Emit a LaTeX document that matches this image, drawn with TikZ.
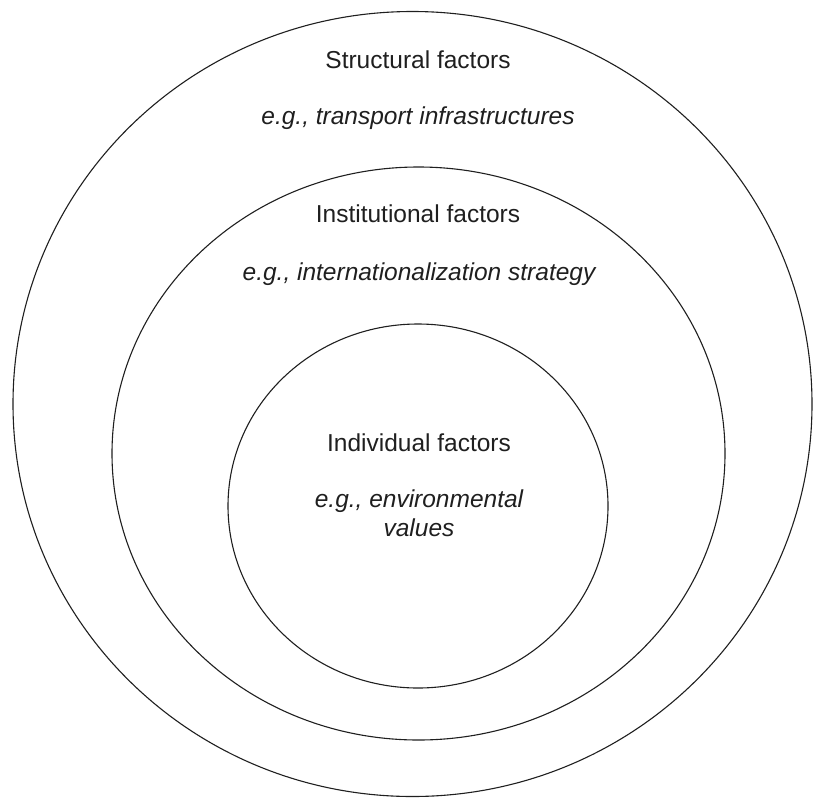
\documentclass[tikz,border=0pt]{standalone}
\usepackage{fontspec}
\setmainfont{Liberation Sans}
\begin{document}
\begin{tikzpicture}[x=1pt,y=-1pt,
  ring/.style={draw=black!88, line width=1.1pt},
  label/.style={anchor=base, inner sep=0pt, text=black!88, font=\fontsize{24.5}{29}\selectfont},
  example/.style={label, font=\fontsize{24.5}{29}\selectfont\itshape, align=center}]
  \useasboundingbox (0,0) rectangle (813,798);
  % nested spheres of influence
  \draw[ring] (412.5,404) ellipse [x radius=399.5, y radius=392.5];
  \draw[ring] (418.5,453.5) ellipse [x radius=306.5, y radius=286.5];
  \draw[ring] (418,506) ellipse [x radius=190, y radius=182];
  % outer ring
  \node[label] (struct) at (418,68) {Structural factors};
  \node[example] (structeg) at (418,124) {e.g., transport infrastructures};
  % middle ring
  \node[label] (inst) at (418,222) {Institutional factors};
  \node[example] (insteg) at (419,280) {e.g., internationalization strategy};
  % inner ring
  \node[label] (indiv) at (419,451) {Individual factors};
  \node[example, anchor=north] (indiveg) at (419,490) {e.g., environmental\\values};
\end{tikzpicture}
\end{document}
